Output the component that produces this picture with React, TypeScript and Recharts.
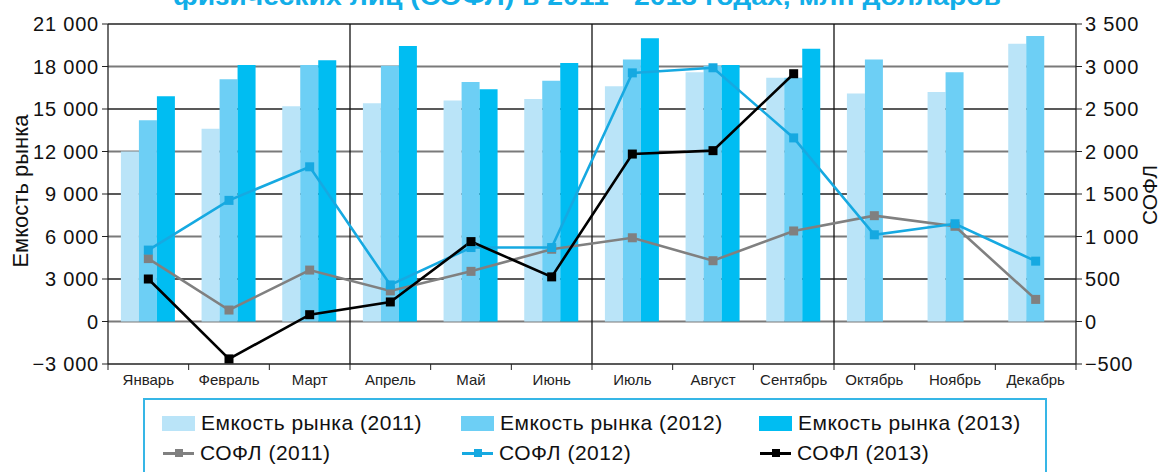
import React from 'react';
import {
  ComposedChart,
  Bar,
  Line,
  XAxis,
  YAxis,
  CartesianGrid,
  ReferenceLine,
  Legend,
} from 'recharts';

const months = [
  'Январь', 'Февраль', 'Март', 'Апрель', 'Май', 'Июнь',
  'Июль', 'Август', 'Сентябрь', 'Октябрь', 'Ноябрь', 'Декабрь',
];

// Емкость рынка, left axis
const market2011 = [12000, 13600, 15200, 15400, 15600, 15700, 16600, 17600, 17200, 16100, 16200, 19600];
const market2012 = [14200, 17100, 18100, 18050, 16900, 17000, 18500, 18050, 17200, 18500, 17600, 20150];
const market2013 = [15900, 18100, 18450, 19450, 16400, 18250, 20000, 18100, 19250, null, null, null];

// СОФЛ, right axis
const sofl2011 = [740, 135, 605, 360, 590, 850, 985, 715, 1065, 1245, 1120, 260];
const sofl2012 = [840, 1425, 1820, 430, 870, 870, 2925, 2985, 2160, 1020, 1150, 710];
const sofl2013 = [500, -440, 80, 230, 940, 525, 1970, 2010, 2915, null, null, null];

const leftTicks = [-3000, 0, 3000, 6000, 9000, 12000, 15000, 18000, 21000];
const rightTicks = [-500, 0, 500, 1000, 1500, 2000, 2500, 3000, 3500];
const grayGrid = [0, 6000, 12000, 18000];
const darkGrid = [3000, 9000, 15000, 21000];
const quarterStarts = ['Апрель', 'Июль', 'Октябрь'];

const C2011 = '#bae4f8';
const C2012 = '#6dcff5';
const C2013 = '#00bdf2';
const L2011 = '#808080';
const L2012 = '#16a9e1';
const L2013 = '#000000';

const data = months.map((month, i) => ({
  month,
  m2011: market2011[i],
  m2012: market2012[i],
  m2013: market2013[i],
  s2011: sofl2011[i],
  s2012: sofl2012[i],
  s2013: sofl2013[i],
}));

const fmt = (v: number) => {
  const s = Math.abs(v).toString().replace(/\B(?=(\d{3})+(?!\d))/g, ' ');
  return v < 0 ? '\u2212' + s : s;
};

const FONT = '"Liberation Sans", Arial, Helvetica, sans-serif';

const squareDot = (color: string) => (props: any) => {
  const { cx, cy, index } = props;
  if (cx == null || cy == null || props.value == null) return <g key={index} />;
  return <rect key={index} x={cx - 4.5} y={cy - 4.5} width={9} height={9} fill={color} />;
};

const MonthTick = (props: any) => {
  const { x, y, payload, index, visibleTicksCount } = props;
  const half = payload.offset || 0;
  const axisY = y - 10;
  return (
    <g>
      <line x1={x - half} x2={x - half} y1={axisY} y2={axisY + 6} stroke="#222" />
      {index === visibleTicksCount - 1 && (
        <line x1={x + half} x2={x + half} y1={axisY} y2={axisY + 6} stroke="#222" />
      )}
      <text x={x} y={y} dy={11} textAnchor="middle" fontSize={15} fill="#222" fontFamily={FONT}>
        {payload.value}
      </text>
    </g>
  );
};

const legendItems = [
  { label: 'Емкость рынка (2011)', color: C2011, kind: 'bar' },
  { label: 'Емкость рынка (2012)', color: C2012, kind: 'bar' },
  { label: 'Емкость рынка (2013)', color: C2013, kind: 'bar' },
  { label: 'СОФЛ (2011)', color: L2011, kind: 'line' },
  { label: 'СОФЛ (2012)', color: L2012, kind: 'line' },
  { label: 'СОФЛ (2013)', color: L2013, kind: 'line' },
];

const LegendBox = () => (
  <div
    style={{
      boxSizing: 'border-box',
      width: 904,
      height: 90,
      border: '2px solid #36b6e6',
      background: '#fff',
      display: 'grid',
      gridTemplateColumns: '299px 298px 280px',
      gridAutoRows: '30px',
      paddingTop: 8,
      paddingLeft: 17,
      fontFamily: FONT,
      fontSize: 21,
      letterSpacing: 0.5,
      color: '#111',
    }}
  >
    {legendItems.map((it) => (
      <div key={it.label} style={{ display: 'flex', alignItems: 'center', whiteSpace: 'nowrap' }}>
        {it.kind === 'bar' ? (
          <span style={{ width: 33, height: 15, background: it.color, marginRight: 6, display: 'inline-block' }} />
        ) : (
          <span style={{ position: 'relative', width: 32, height: 15, marginRight: 6, display: 'inline-block' }}>
            <span style={{ position: 'absolute', left: 1, right: 0, top: 6, height: 3, background: it.color }} />
            <span style={{ position: 'absolute', left: 13, top: 3.5, width: 8, height: 8, background: it.color }} />
          </span>
        )}
        <span>{it.label}</span>
      </div>
    ))}
  </div>
);

export default function App() {
  return (
    <div
      style={{
        position: 'absolute',
        left: 0,
        top: 0,
        width: 1162,
        height: 472,
        overflow: 'hidden',
        background: '#fff',
        fontFamily: FONT,
      }}
    >
      <svg width={1162} height={30} style={{ position: 'absolute', left: 0, top: 0 }}>
        <text
          x={587}
          y={5}
          textAnchor="middle"
          fontSize={25}
          fontWeight="bold"
          fill="#12aee8"
          fontFamily={FONT}
          textLength={828}
          lengthAdjust="spacingAndGlyphs"
        >
          физических лиц (СОФЛ) в 2011 - 2013 годах, млн долларов
        </text>
      </svg>
      <div
        style={{
          position: 'absolute',
          left: 21,
          top: 191,
          transform: 'translate(-50%, -50%) rotate(-90deg)',
          whiteSpace: 'nowrap',
          fontSize: 22,
          lineHeight: '22px',
          color: '#111',
        }}
      >
        Емкость рынка
      </div>
      <div
        style={{
          position: 'absolute',
          left: 1150,
          top: 195,
          transform: 'translate(-50%, -50%) rotate(-90deg)',
          whiteSpace: 'nowrap',
          fontSize: 21,
          lineHeight: '20px',
          color: '#111',
        }}
      >
        СОФЛ
      </div>
      <div style={{ position: 'absolute', left: 0, top: 0 }}>
        <ComposedChart
          width={1162}
          height={472}
          data={data}
          margin={{ top: 24, right: 0, bottom: 78, left: 0 }}
          barCategoryGap="16%"
          barGap={0}
        >
          <CartesianGrid
            yAxisId="left"
            vertical={false}
            stroke="#222"
            strokeWidth={1.3}
            horizontalValues={darkGrid}
          />
          <CartesianGrid
            yAxisId="left"
            vertical={false}
            stroke="#7a7a7a"
            strokeWidth={2}
            horizontalValues={grayGrid}
          />
          <XAxis
            dataKey="month"
            height={30}
            tickLine={false}
            tickSize={6}
            tickMargin={4}
            interval={0}
            axisLine={{ stroke: '#222', strokeWidth: 1.3 }}
            tick={<MonthTick />}
          />
          <YAxis
            yAxisId="left"
            width={108}
            domain={[-3000, 21000]}
            ticks={leftTicks}
            interval={0}
            tickFormatter={fmt}
            tickSize={6}
            tickMargin={3}
            axisLine={{ stroke: '#222', strokeWidth: 1.3 }}
            tickLine={{ stroke: '#222' }}
            tick={{ fontSize: 20, fill: '#111', fontFamily: FONT, letterSpacing: 0.8 }}
          />
          <YAxis
            yAxisId="right"
            orientation="right"
            width={86}
            domain={[-500, 3500]}
            ticks={rightTicks}
            interval={0}
            tickFormatter={fmt}
            tickSize={6}
            tickMargin={3}
            axisLine={{ stroke: '#222', strokeWidth: 1.3 }}
            tickLine={{ stroke: '#222' }}
            tick={{ fontSize: 20, fill: '#111', fontFamily: FONT, letterSpacing: 0.8 }}
          />
          {quarterStarts.map((m) => (
            <ReferenceLine
              key={m}
              yAxisId="left"
              x={m}
              position="start"
              stroke="#111"
              strokeWidth={1.3}
            />
          ))}
          <Bar yAxisId="left" dataKey="m2011" fill={C2011} isAnimationActive={false} />
          <Bar yAxisId="left" dataKey="m2012" fill={C2012} isAnimationActive={false} />
          <Bar yAxisId="left" dataKey="m2013" fill={C2013} isAnimationActive={false} />
          <Line
            yAxisId="right"
            dataKey="s2011"
            type="linear"
            stroke={L2011}
            strokeWidth={2.6}
            dot={squareDot(L2011)}
            activeDot={false}
            isAnimationActive={false}
          />
          <Line
            yAxisId="right"
            dataKey="s2012"
            type="linear"
            stroke={L2012}
            strokeWidth={2.6}
            dot={squareDot(L2012)}
            activeDot={false}
            isAnimationActive={false}
          />
          <Line
            yAxisId="right"
            dataKey="s2013"
            type="linear"
            stroke={L2013}
            strokeWidth={2.6}
            dot={squareDot(L2013)}
            activeDot={false}
            isAnimationActive={false}
          />
          <Legend
            verticalAlign="middle"
            align="center"
            layout="horizontal"
            wrapperStyle={{ left: 143, top: 398, width: 904, height: 90 }}
            content={() => <LegendBox />}
          />
        </ComposedChart>
      </div>
    </div>
  );
}
